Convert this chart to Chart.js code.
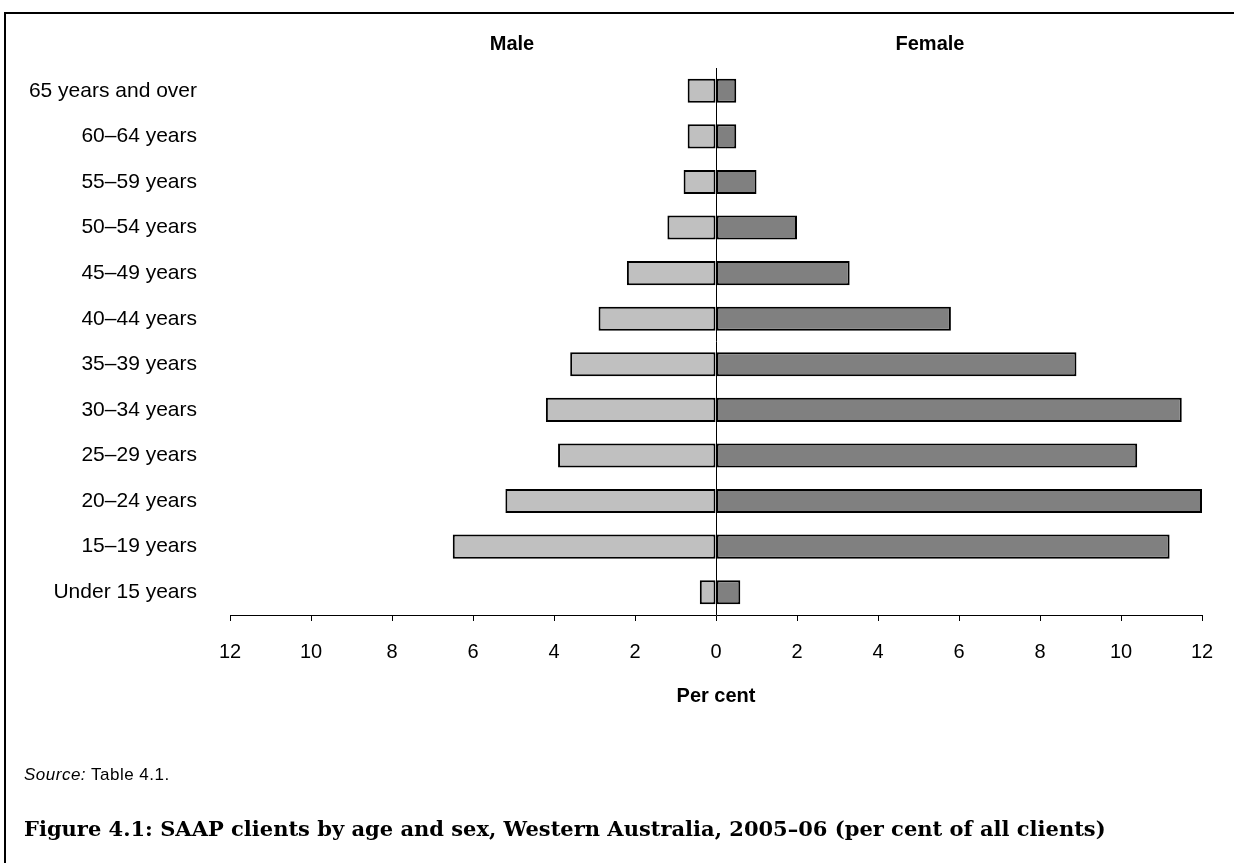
<!DOCTYPE html>
<html>
<head>
<meta charset="utf-8">
<script src="https://cdn.jsdelivr.net/npm/chart.js@4/dist/chart.umd.min.js"></script>
<style>
  body { margin: 0; background: #fff; }
  #wrap { position: relative; width: 1234px; height: 863px; overflow: hidden; font-family: "Liberation Sans", Arial, sans-serif; }
  #frame { position: absolute; left: 4px; top: 12px; width: 1300px; height: 900px; border-left: 2px solid #000; border-top: 2px solid #000; }
  canvas { position: absolute; left: 0; top: 0; }
  .head { position: absolute; top: 32px; font-weight: bold; font-size: 20px; transform: translateX(-50%); }
  #source { position: absolute; left: 24px; top: 765px; font-size: 17px; letter-spacing: 0.5px; }
  #title { position: absolute; left: 24px; top: 816px; font-family: "DejaVu Serif", serif; font-weight: bold; font-size: 21px; white-space: nowrap; }
</style>
</head>
<body>
<div id="wrap">
  <div id="frame"></div>
  <canvas id="chart" width="1234" height="863"></canvas>
  <div class="head" style="left:512px">Male</div>
  <div class="head" style="left:930px">Female</div>
  <div id="source"><i>Source:</i> Table 4.1.</div>
  <div id="title">Figure 4.1: SAAP clients by age and sex, Western Australia, 2005–06 (per cent of all clients)</div>
</div>
<script>
// ==================== DATA ====================
const ageGroups = [
  "65 years and over", "60–64 years", "55–59 years", "50–54 years",
  "45–49 years", "40–44 years", "35–39 years", "30–34 years",
  "25–29 years", "20–24 years", "15–19 years", "Under 15 years"
];
const maleShare   = [0.7, 0.7, 0.8, 1.2, 2.2, 2.9, 3.6, 4.2, 3.9, 5.2, 6.5, 0.4];
const femaleShare = [0.5, 0.5, 1.0, 2.0, 3.3, 5.8, 8.9, 11.5, 10.4, 12.0, 11.2, 0.6];
const xTicks = [-12, -10, -8, -6, -4, -2, 0, 2, 4, 6, 8, 10, 12];

Chart.defaults.color = "#000";
Chart.defaults.font.family = "'Liberation Sans', Arial, sans-serif";
Chart.defaults.font.size = 20;

// ==================== CHART ====================
const ctx = document.getElementById("chart").getContext("2d");
new Chart(ctx, {
  type: "bar",
  data: {
    labels: ageGroups,
    datasets: [
      {
        label: "Male",
        data: maleShare.map(v => -v),
        backgroundColor: "#c0c0c0",
        borderColor: "#000",
        borderWidth: 2,
        borderSkipped: false
      },
      {
        label: "Female",
        data: femaleShare,
        backgroundColor: "#808080",
        borderColor: "#000",
        borderWidth: 2,
        borderSkipped: false
      }
    ]
  },
  options: {
    indexAxis: "y",
    responsive: false,
    animation: false,
    devicePixelRatio: 1,
    layout: { padding: { left: 0, right: 32, top: 68, bottom: 155 } },
    datasets: { bar: { barPercentage: 0.53, categoryPercentage: 1.0 } },
    plugins: { legend: { display: false }, tooltip: { enabled: false } },
    scales: {
      x: {
        stacked: true,
        min: -12,
        max: 12,
        afterBuildTicks: scale => { scale.ticks = xTicks.map(v => ({ value: v })); },
        afterFit: scale => { scale.height = 93; },
        ticks: { callback: v => Math.abs(v), padding: 19, maxRotation: 0, autoSkip: false },
        grid: {
          color: c => (c.tick && c.tick.value === 0 ? "#000" : "rgba(0,0,0,0)"),
          tickColor: "#000",
          tickLength: 6,
          lineWidth: 1
        },
        border: { display: true, color: "#000", width: 1 },
        title: { display: true, text: "Per cent", font: { weight: "bold", size: 20 }, padding: { top: 0, bottom: 0 } }
      },
      y: {
        stacked: true,
        afterFit: scale => { scale.width = 230; },
        ticks: { padding: 33, font: { size: 21 } },
        grid: { display: false, drawTicks: false },
        border: { display: false }
      }
    }
  }
});
</script>
</body>
</html>
